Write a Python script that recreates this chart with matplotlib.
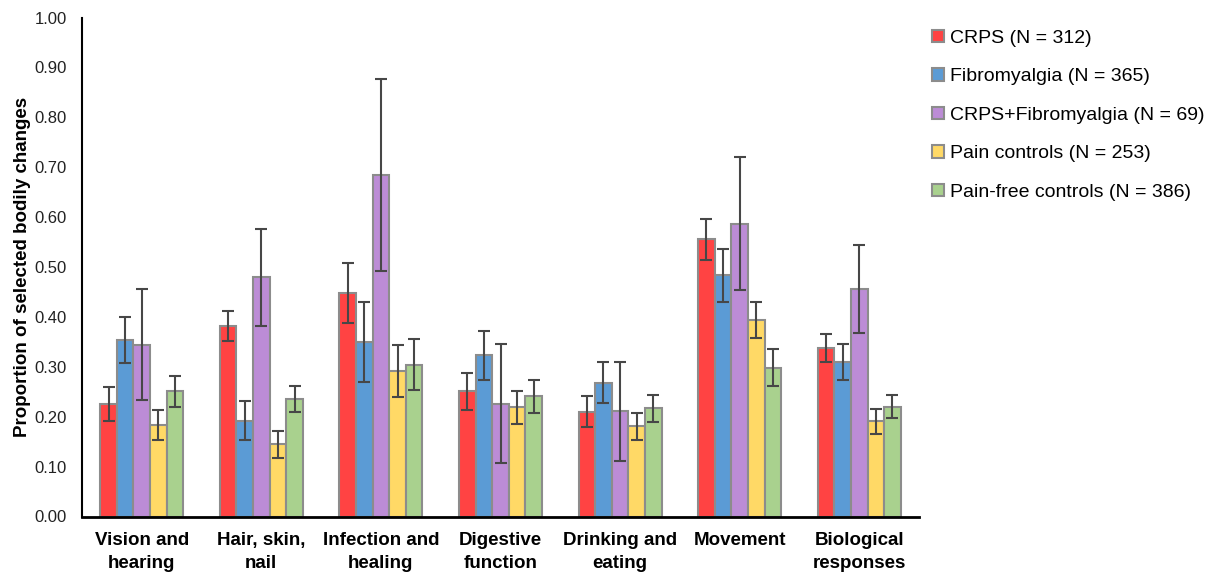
import matplotlib
matplotlib.use("Agg")
import matplotlib.pyplot as plt
import numpy as np

plt.rcParams['font.family'] = ['Liberation Sans', 'DejaVu Sans']

categories = ["Vision and\nhearing", "Hair, skin,\nnail", "Infection and\nhealing",
              "Digestive\nfunction", "Drinking and\neating", "Movement",
              "Biological\nresponses"]

series_names = ["CRPS (N = 312)", "Fibromyalgia (N = 365)",
                "CRPS+Fibromyalgia (N = 69)", "Pain controls (N = 253)",
                "Pain-free controls (N = 386)"]

crps = [0.225, 0.382, 0.448, 0.251, 0.210, 0.556, 0.338]
crps_err = [0.034, 0.030, 0.060, 0.037, 0.031, 0.041, 0.028]

fibro = [0.354, 0.192, 0.349, 0.323, 0.268, 0.483, 0.310]
fibro_err = [0.046, 0.039, 0.080, 0.049, 0.041, 0.054, 0.036]

crps_fibro = [0.344, 0.479, 0.684, 0.226, 0.211, 0.587, 0.456]
crps_fibro_err = [0.111, 0.098, 0.193, 0.119, 0.099, 0.133, 0.088]

pain_ctrl = [0.183, 0.145, 0.292, 0.219, 0.181, 0.394, 0.191]
pain_ctrl_err = [0.030, 0.027, 0.052, 0.033, 0.027, 0.036, 0.025]

painfree_ctrl = [0.251, 0.235, 0.304, 0.241, 0.217, 0.298, 0.220]
painfree_ctrl_err = [0.031, 0.026, 0.051, 0.033, 0.027, 0.037, 0.023]

yticks = [0.0, 0.1, 0.2, 0.3, 0.4, 0.5, 0.6, 0.7, 0.8, 0.9, 1.0]

colors = ["#FF4343", "#5B9BD5", "#BC8CD6", "#FFD966", "#A9D18E"]
edge = "#8C8C8C"
errc = "#474747"

values = [crps, fibro, crps_fibro, pain_ctrl, painfree_ctrl]
errors = [crps_err, fibro_err, crps_fibro_err, pain_ctrl_err, painfree_ctrl_err]

fig = plt.figure(figsize=(12.17, 5.77), dpi=100)
ax = fig.add_axes([82 / 1217, 1 - 516.5 / 577, (919 - 82) / 1217, (516.5 - 17.5) / 577])

x = np.arange(len(categories))
bw = 0.139
n = len(values)
for i, (v, e) in enumerate(zip(values, errors)):
    pos = x + (i - (n - 1) / 2) * bw
    ax.bar(pos, v, width=bw, color=colors[i], edgecolor=edge, linewidth=1.5,
           label=series_names[i], zorder=2)
    ax.errorbar(pos, v, yerr=e, fmt='none', ecolor=errc, elinewidth=1.5,
                capsize=4, capthick=1.5, zorder=3)

ax.set_xlim(-0.5, len(categories) - 0.5)
ax.set_ylim(0, 1.0)
ax.set_yticks(yticks)
ax.set_yticklabels([f"{t:.2f}" for t in yticks], fontsize=12, color="#222222")
ax.set_xticks(x)
ax.set_xticklabels(categories, fontsize=13.5, fontweight='bold', linespacing=1.45)
ax.tick_params(axis='y', length=0, pad=11)
ax.tick_params(axis='x', length=0, pad=11)

for s in ['top', 'right']:
    ax.spines[s].set_visible(False)
ax.spines['left'].set_linewidth(1.5)
ax.spines['bottom'].set_linewidth(2)

ax.set_ylabel("Proportion of selected bodily changes", fontsize=13.5, fontweight='bold')
ax.yaxis.set_label_coords(-0.061, 0.5)

leg = ax.legend(loc='upper left', bbox_to_anchor=(932 / 1217, 1 - 30 / 577),
                bbox_transform=fig.transFigure, frameon=False, fontsize=14,
                handlelength=0.6, handleheight=0.6, handletextpad=0.3,
                labelspacing=1.1, borderaxespad=0, borderpad=0)

fig.savefig("out.png", dpi=100)
